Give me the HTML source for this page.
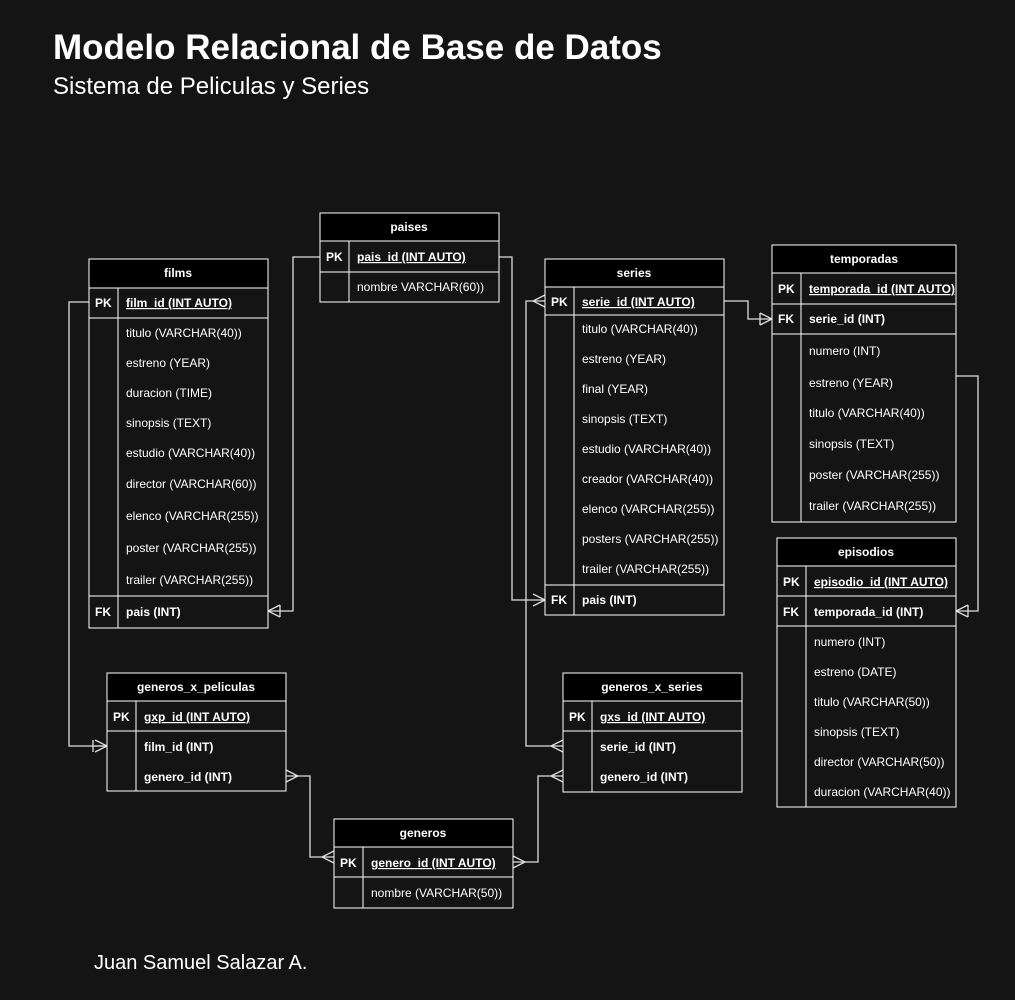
<!DOCTYPE html>
<html><head><meta charset="utf-8"><style>
html,body{margin:0;padding:0;background:#141414;}
svg{display:block;font-family:"Liberation Sans",Arial,sans-serif;}
</style></head><body>
<svg width="1015" height="1000" viewBox="0 0 1015 1000" xmlns="http://www.w3.org/2000/svg">
<rect width="1015" height="1000" fill="#141414"/>
<text x="53" y="59" fill="#fff" font-size="35" font-weight="bold">Modelo Relacional de Base de Datos</text>
<text x="53" y="94" fill="#fff" font-size="24">Sistema de Peliculas y Series</text>
<text x="94" y="969" fill="#fff" font-size="20">Juan Samuel Salazar A.</text>

<g fill="none" stroke="#ddd" stroke-width="1.3">
<path d="M89,302 H69 V746 H107"/>
<path d="M95,740 L107,746 L95,752 M95,746 H107 M93,740 V752"/>
<path d="M268,611 H293 V257 H320"/>
<path d="M280,605 L268,611 L280,617 M280,605 V617"/>
<path d="M499,257 H512 V600 H545"/>
<path d="M533,594 L545,600 L533,606"/>
<path d="M545,301 H526 V746 H563"/>
<path d="M545,295 L533,301 L545,307"/>
<path d="M563,740 L551,746 L563,752"/>
<path d="M724,301 H748 V319 H772"/>
<path d="M760,313 L772,319 L760,325 M760,313 V325"/>
<path d="M956,376 H978 V611 H956"/>
<path d="M968,605 L956,611 L968,617 M968,605 V617"/>
<path d="M286,776 H310 V857 H334"/>
<path d="M286,770 L298,776 L286,782"/>
<path d="M334,851 L322,857 L334,863"/>
<path d="M513,862 H538 V776 H563"/>
<path d="M513,856 L525,862 L513,868"/>
<path d="M563,770 L551,776 L563,782"/>
</g>

<g stroke="#fff" stroke-width="1" fill="#141414">
<rect x="89" y="259" width="179" height="369"/>
<rect x="89" y="259" width="179" height="29" fill="#000"/>
<line x1="89" y1="318" x2="268" y2="318"/><line x1="118" y1="288" x2="118" y2="628"/>
<line x1="89" y1="596" x2="268" y2="596"/>
<rect x="320" y="213" width="179" height="89"/>
<rect x="320" y="213" width="179" height="28" fill="#000"/>
<line x1="320" y1="272" x2="499" y2="272"/><line x1="349" y1="241" x2="349" y2="302"/>
<rect x="545" y="259" width="179" height="356"/>
<rect x="545" y="259" width="179" height="28" fill="#000"/>
<line x1="545" y1="315" x2="724" y2="315"/><line x1="574" y1="287" x2="574" y2="615"/>
<line x1="545" y1="585" x2="724" y2="585"/>
<rect x="772" y="245" width="184" height="277"/>
<rect x="772" y="245" width="184" height="28" fill="#000"/>
<line x1="772" y1="304" x2="956" y2="304"/><line x1="801" y1="273" x2="801" y2="522"/>
<line x1="772" y1="334" x2="956" y2="334"/>
<rect x="777" y="538" width="179" height="269"/>
<rect x="777" y="538" width="179" height="28" fill="#000"/>
<line x1="777" y1="596" x2="956" y2="596"/><line x1="806" y1="566" x2="806" y2="807"/>
<line x1="777" y1="626" x2="956" y2="626"/>
<rect x="107" y="673" width="179" height="118"/>
<rect x="107" y="673" width="179" height="28" fill="#000"/>
<line x1="107" y1="731" x2="286" y2="731"/><line x1="136" y1="701" x2="136" y2="791"/>
<rect x="563" y="673" width="179" height="119"/>
<rect x="563" y="673" width="179" height="28" fill="#000"/>
<line x1="563" y1="731" x2="742" y2="731"/><line x1="592" y1="701" x2="592" y2="792"/>
<rect x="334" y="819" width="179" height="89"/>
<rect x="334" y="819" width="179" height="28" fill="#000"/>
<line x1="334" y1="877" x2="513" y2="877"/><line x1="363" y1="847" x2="363" y2="908"/>
</g>

<g fill="#fff" font-size="12">
<g font-weight="bold" text-anchor="middle">
<text x="178" y="277">films</text>
<text x="409" y="231">paises</text>
<text x="634" y="277">series</text>
<text x="864" y="263">temporadas</text>
<text x="866" y="556">episodios</text>
<text x="196" y="691">generos_x_peliculas</text>
<text x="652" y="691">generos_x_series</text>
<text x="423" y="837">generos</text>
</g>
<g font-weight="bold">
<text x="95" y="307">PK</text><text x="126" y="307" text-decoration="underline">film_id (INT AUTO)</text>
<text x="95" y="616">FK</text><text x="126" y="616">pais (INT)</text>
<text x="326" y="261">PK</text><text x="357" y="261" text-decoration="underline">pais_id (INT AUTO)</text>
<text x="551" y="306">PK</text><text x="582" y="306" text-decoration="underline">serie_id (INT AUTO)</text>
<text x="551" y="604">FK</text><text x="582" y="604">pais (INT)</text>
<text x="778" y="293">PK</text><text x="809" y="293" text-decoration="underline">temporada_id (INT AUTO)</text>
<text x="778" y="323">FK</text><text x="809" y="323">serie_id (INT)</text>
<text x="783" y="586">PK</text><text x="814" y="586" text-decoration="underline">episodio_id (INT AUTO)</text>
<text x="783" y="616">FK</text><text x="814" y="616">temporada_id (INT)</text>
<text x="113" y="721">PK</text><text x="144" y="721" text-decoration="underline">gxp_id (INT AUTO)</text>
<text x="144" y="751">film_id (INT)</text><text x="144" y="781">genero_id (INT)</text>
<text x="569" y="721">PK</text><text x="600" y="721" text-decoration="underline">gxs_id (INT AUTO)</text>
<text x="600" y="751">serie_id (INT)</text><text x="600" y="781">genero_id (INT)</text>
<text x="340" y="867">PK</text><text x="371" y="867" text-decoration="underline">genero_id (INT AUTO)</text>
</g>
<text x="126" y="337">titulo (VARCHAR(40))</text>
<text x="126" y="367">estreno (YEAR)</text>
<text x="126" y="397">duracion (TIME)</text>
<text x="126" y="427">sinopsis (TEXT)</text>
<text x="126" y="457">estudio (VARCHAR(40))</text>
<text x="126" y="488">director (VARCHAR(60))</text>
<text x="126" y="520">elenco (VARCHAR(255))</text>
<text x="126" y="552">poster (VARCHAR(255))</text>
<text x="126" y="584">trailer (VARCHAR(255))</text>
<text x="357" y="291">nombre VARCHAR(60))</text>
<text x="582" y="333">titulo (VARCHAR(40))</text>
<text x="582" y="363">estreno (YEAR)</text>
<text x="582" y="393">final (YEAR)</text>
<text x="582" y="423">sinopsis (TEXT)</text>
<text x="582" y="453">estudio (VARCHAR(40))</text>
<text x="582" y="483">creador (VARCHAR(40))</text>
<text x="582" y="513">elenco (VARCHAR(255))</text>
<text x="582" y="543">posters (VARCHAR(255))</text>
<text x="582" y="573">trailer (VARCHAR(255))</text>
<text x="809" y="355">numero (INT)</text>
<text x="809" y="387">estreno (YEAR)</text>
<text x="809" y="417">titulo (VARCHAR(40))</text>
<text x="809" y="448">sinopsis (TEXT)</text>
<text x="809" y="479">poster (VARCHAR(255))</text>
<text x="809" y="510">trailer (VARCHAR(255))</text>
<text x="814" y="646">numero (INT)</text>
<text x="814" y="676">estreno (DATE)</text>
<text x="814" y="706">titulo (VARCHAR(50))</text>
<text x="814" y="736">sinopsis (TEXT)</text>
<text x="814" y="766">director (VARCHAR(50))</text>
<text x="814" y="796">duracion (VARCHAR(40))</text>
<text x="371" y="897">nombre (VARCHAR(50))</text>
</g>
</svg>
</body></html>
